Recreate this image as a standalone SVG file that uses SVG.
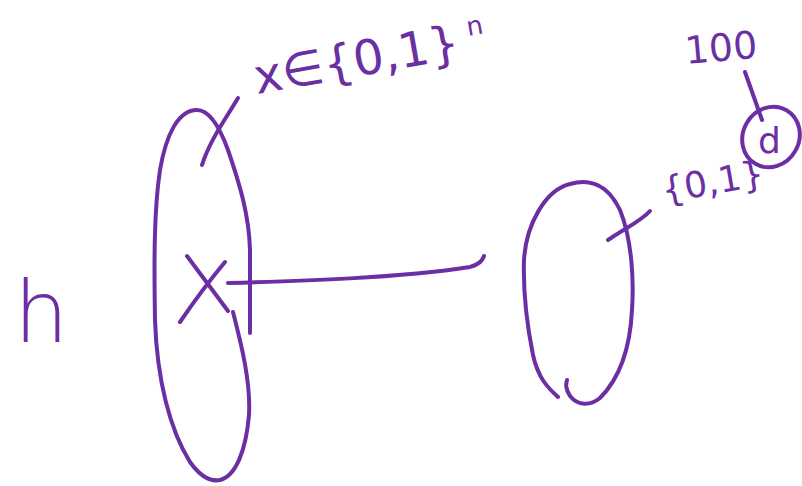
<svg xmlns="http://www.w3.org/2000/svg" width="802" height="486" viewBox="0 0 802 486">
<style>
.s{fill:none;stroke:#6b2fa3;stroke-width:4;stroke-linecap:round;stroke-linejoin:round}
.t{fill:#6b2fa3;font-family:"DejaVu Sans",sans-serif}
</style>
<rect width="802" height="486" fill="#fff"/>
<g id="input-set">
<path class="s" d="M250,333 L250,250 C249,215 240,185 228,150 C220,128 210,110 197,110 C178,110 166,135 160,170 C154,210 154,260 155,320 C157,380 170,430 190,462 C200,476 210,482 220,480 C236,476 246,450 249,415 C251,380 240,340 233,312"/>
<path class="s" d="M238,98 C225,120 210,140 202,165"/>
<path class="s" d="M187,256 L228,311 M225,262 C210,280 195,300 180,322"/>
</g>
<g id="label-x">
<text class="t" x="257" y="94" font-size="48" transform="rotate(-10 257 94)">x∈{0,1}</text>
<text class="t" x="468" y="36" font-size="26" transform="rotate(-10 468 36)">n</text>
</g>
<g id="label-h">
<text class="t" x="14" y="342" font-size="86" font-weight="200">h</text>
</g>
<g id="output-set">
<path class="s" d="M558,397 C548,388 538,378 533,355 C526,320 523,290 524,260 C526,225 545,190 570,184 C590,178 608,185 620,210 C632,240 634,280 632,310 C630,350 618,380 600,398 C590,406 578,406 570,396 C565,388 566,384 567,380"/>
<path class="s" d="M608,240 C625,228 640,222 650,211"/>
</g>
<g id="label-01">
<text class="t" x="664" y="203" font-size="36" transform="rotate(-10 664 203)">{0,1}</text>
</g>
<g id="node-d">
<path class="s" d="M745,72 L762,120"/>
<ellipse class="s" cx="771" cy="137" rx="28" ry="31" transform="rotate(30 771 137)"/>
<text class="t" x="758" y="153" font-size="36">d</text>
</g>
<g id="label-100">
<text class="t" x="686" y="64" font-size="38" transform="rotate(-5 686 64)">100</text>
</g>
<g id="connectors">
<path class="s" d="M228,283 C300,281 400,278 470,267 C478,265 482,262 484,256"/>
</g>
</svg>
